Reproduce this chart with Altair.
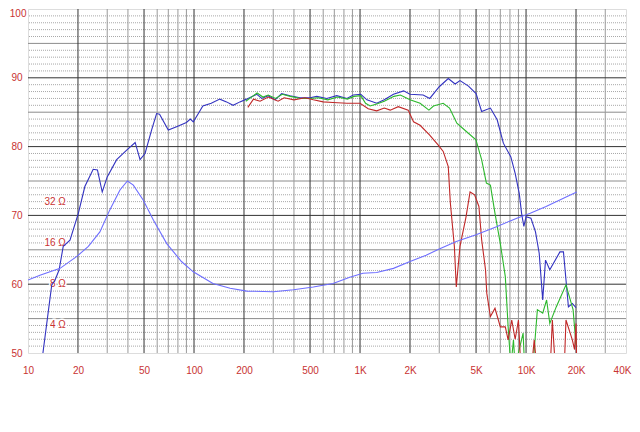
import altair as alt
import pandas as pd

# ---- data ----
spl_f = [12.3, 13.9, 14.5, 15.4, 16.3, 17.9, 20.1, 22.0, 24.7, 26.2, 28.0, 30.0, 34.2, 39.3, 44.2, 47.3,
         50.7, 55.5, 59.5, 62, 70, 78.5, 90, 95, 99, 108, 113, 127, 143, 157, 172, 189, 207, 239, 256,
         280, 308, 337, 379, 435, 500, 549, 630, 724, 834, 910, 1010, 1100, 1260, 1400, 1590, 1830,
         2000, 2400, 2630, 3000, 3400, 3740, 4000, 4500, 5000, 5400, 6100, 6700, 7300, 8100, 8600,
         9100, 9400, 9700, 10000, 10700, 11400, 12000, 12600, 13100, 13900, 16000, 16800, 18000,
         19000, 20000]
spl_db = [50, 59.9, 60.5, 62.1, 65.5, 66.4, 70.3, 74.2, 76.7, 76.6, 73.4, 75.6, 78.1, 79.5, 80.6, 78.1,
          79.0, 82.4, 84.8, 84.7, 82.4, 82.9, 83.5, 84.0, 83.6, 85.1, 85.9, 86.3, 86.9, 86.5, 86.0, 86.5,
          86.9, 87.6, 87.0, 87.4, 86.8, 87.7, 87.4, 87.1, 87.1, 87.3, 87.0, 87.4, 87.0, 87.5, 87.6, 86.8,
          86.3, 86.8, 87.6, 88.1, 87.6, 87.5, 87.0, 88.7, 89.9, 89.1, 89.6, 88.8, 87.7, 85.1, 85.6, 83.9,
          80.5, 78.5, 76.1, 73.2, 70.3, 68.4, 69.8, 69.6, 67.6, 64.5, 57.7, 63.5, 62.1, 64.7, 64.7, 56.7,
          57.2, 56.6]

green_f = [205, 225, 240, 260, 280, 310, 340, 380, 440, 500, 560, 640, 730, 840, 920, 1010, 1080, 1150,
           1260, 1400, 1600, 1750, 2000, 2300, 2600, 2770, 3170, 3460, 3830, 4370, 4990, 5400, 5770,
           6100, 6500, 7000, 7500, 7800, 8100, 8400, 8600, 9600, 9800, 11000, 11700, 12600, 13300,
           13900, 15200, 17400, 19200, 20000]
green_db = [86.6, 87.3, 87.8, 87.2, 87.5, 87.0, 87.6, 87.3, 87.0, 87.0, 87.1, 86.8, 87.2, 86.9, 87.3,
            87.4, 86.3, 85.9, 86.2, 86.6, 87.3, 87.5, 86.8, 86.3, 85.3, 85.9, 86.3, 85.6, 83.4, 82.2,
            81.0, 78.1, 74.7, 74.4, 70.3, 65.9, 61.1, 53.8, 48, 51.9, 48, 52.9, 48, 48, 56.3, 55.8,
            57.7, 54.3, 56.7, 59.9, 56.3, 51.2]

red_f = [211, 228, 250, 280, 321, 349, 400, 466, 523, 600, 688, 834, 1000, 1120, 1260, 1400, 1520,
         1700, 1950, 2100, 2300, 2620, 2960, 3170, 3400, 3500, 3700, 3800, 4000, 4350, 4600, 4900,
         5200, 5400, 5700, 5800, 6100, 6500, 7000, 7500, 7800, 8200, 8600, 9000, 9300, 10800, 11200,
         11600, 14000, 14400, 15000, 17000, 17400, 19000, 19600, 20000, 20200]
red_db = [85.7, 86.9, 86.6, 87.2, 86.6, 87.1, 86.8, 87.1, 86.8, 86.5, 86.4, 86.3, 86.3, 85.5, 85.2,
          85.6, 85.3, 85.8, 85.3, 83.6, 83.1, 81.7, 80.2, 79.3, 77.1, 71.8, 65.5, 59.6, 65.5, 69.8,
          73.4, 73.0, 71.3, 66.5, 62.1, 58.7, 55.3, 56.5, 53.8, 53.8, 51.9, 54.8, 52.0, 54.8, 48, 48,
          51.9, 48, 48, 54.8, 48, 48, 54.8, 51.9, 50.5, 54.3, 48]

imp_f = [10, 11.8, 15.6, 19.6, 23.1, 27.1, 31.1, 35.8, 39.7, 43.1, 49.5, 57, 68.5, 84, 99, 130, 165,
         208, 301, 397, 523, 688, 868, 1040, 1260, 1590, 2000, 2500, 3000, 3800, 5000, 6700, 8800,
         10600, 13200, 16800, 20200]
imp_db = [60.6, 61.3, 62.3, 64.0, 65.5, 67.6, 70.8, 73.7, 75.0, 74.4, 72.2, 69.3, 65.9, 63.3, 61.8,
          60.1, 59.4, 59.0, 58.9, 59.2, 59.6, 60.1, 61.0, 61.6, 61.7, 62.3, 63.3, 64.2, 65.1, 66.2,
          67.2, 68.4, 69.6, 70.3, 71.3, 72.5, 73.4]

x_ticks = [10, 20, 50, 100, 200, 500, 1000, 2000, 5000, 10000, 20000, 40000]
y_ticks = [50, 60, 70, 80, 90, 100]
x_major = [20, 50, 100, 200, 500, 1000, 2000, 5000, 10000, 20000]
x_minor = [30, 40, 60, 70, 80, 90, 300, 400, 600, 700, 800, 900, 3000, 4000, 6000, 7000, 8000, 9000,
           30000]
y_major = [60, 70, 80, 90]
y_mid = [55, 65, 75, 85, 95]
y_minor = [v for v in range(51, 100) if v % 5 != 0]

imp_labels = ["32 Ω", "16 Ω", "8 Ω", "4 Ω"]
imp_levels = [72, 66, 60, 54]
imp_label_f = 16.9

# ---- chart ----
RED = "#c83232"
FONT = "Liberation Sans"
xs = alt.Scale(type="log", domain=[10, 40000], nice=False)
ys = alt.Scale(domain=[50, 100], nice=False, zero=False)

x_axis = alt.Axis(values=x_ticks, grid=False, ticks=False, domain=False,
                  labelColor=RED, labelFont=FONT, labelFontSize=10,
                  labelPadding=12, labelFlush=False, labelOverlap=False,
                  labelOffset={"condition": {"test": "datum.value == 40000", "value": -4}, "value": 0},
                  labelExpr="datum.value >= 1000 ? format(datum.value/1000, 'd') + 'K' : format(datum.value, 'd')")
y_axis = alt.Axis(values=y_ticks, grid=False, ticks=False, domain=False,
                  labelColor=RED, labelFont=FONT, labelFontSize=10,
                  labelPadding={"condition": {"test": "datum.value == 100", "value": 2}, "value": 6},
                  labelFlush=False, labelOverlap=False,
                  labelOffset={"condition": {"test": "datum.value == 100", "value": 4}, "value": 0})


def X(field):
    return alt.X(field, scale=xs, axis=x_axis, title=None)


def Y(field):
    return alt.Y(field, scale=ys, axis=y_axis, title=None)


curves = pd.concat([
    pd.DataFrame({"f": spl_f, "db": spl_db, "s": "spl"}),
    pd.DataFrame({"f": green_f, "db": green_db, "s": "green"}),
    pd.DataFrame({"f": red_f, "db": red_db, "s": "red"}),
    pd.DataFrame({"f": imp_f, "db": imp_db, "s": "imp"}),
])


def hrules(vals, color, dash=None):
    kw = dict(color=color, strokeWidth=1)
    if dash:
        kw["strokeDash"] = dash
    return alt.Chart(pd.DataFrame({"db": vals})).mark_rule(**kw).encode(y=Y("db:Q"))


def vrules(vals, color):
    return alt.Chart(pd.DataFrame({"f": vals})).mark_rule(color=color, strokeWidth=1).encode(x=X("f:Q"))


lines = alt.Chart(curves).mark_line(strokeWidth=1.1, clip=True).encode(
    x=X("f:Q"),
    y=Y("db:Q"),
    color=alt.Color("s:N", legend=None,
                    scale=alt.Scale(domain=["imp", "red", "green", "spl"],
                                    range=["#6e6eff", "#c02828", "#2cb82c", "#3232c0"])),
    order=alt.Order("f:Q"),
)

lab_df = pd.DataFrame({"t": imp_labels, "db": imp_levels, "f": imp_label_f})
lab_bg = alt.Chart(lab_df).mark_text(align="right", baseline="middle", font=FONT,
                                     fontSize=10, stroke="white", strokeWidth=3, color="white").encode(
    x=X("f:Q"), y=Y("db:Q"), text="t:N")
lab = alt.Chart(lab_df).mark_text(align="right", baseline="middle", font=FONT,
                                  fontSize=10, color=RED).encode(
    x=X("f:Q"), y=Y("db:Q"), text="t:N")

chart = alt.layer(
    hrules(y_minor, "#a8a8a8", [1, 1]),
    hrules(y_mid, "#8c8c8c"),
    vrules(x_minor, "#9a9a9a"),
    vrules(x_major, "#333333"),
    hrules(y_major, "#333333"),
    lab_bg, lab,
    lines,
).properties(
    width=598, height=344,
    autosize=alt.AutoSizeParams(type="none"),
    padding={"left": 20, "top": 1, "right": 6, "bottom": 40},
).configure_view(stroke="#222222", strokeWidth=1.5).configure(background="white")

chart.save("out.html", embed_options={"renderer": "svg", "actions": False})
